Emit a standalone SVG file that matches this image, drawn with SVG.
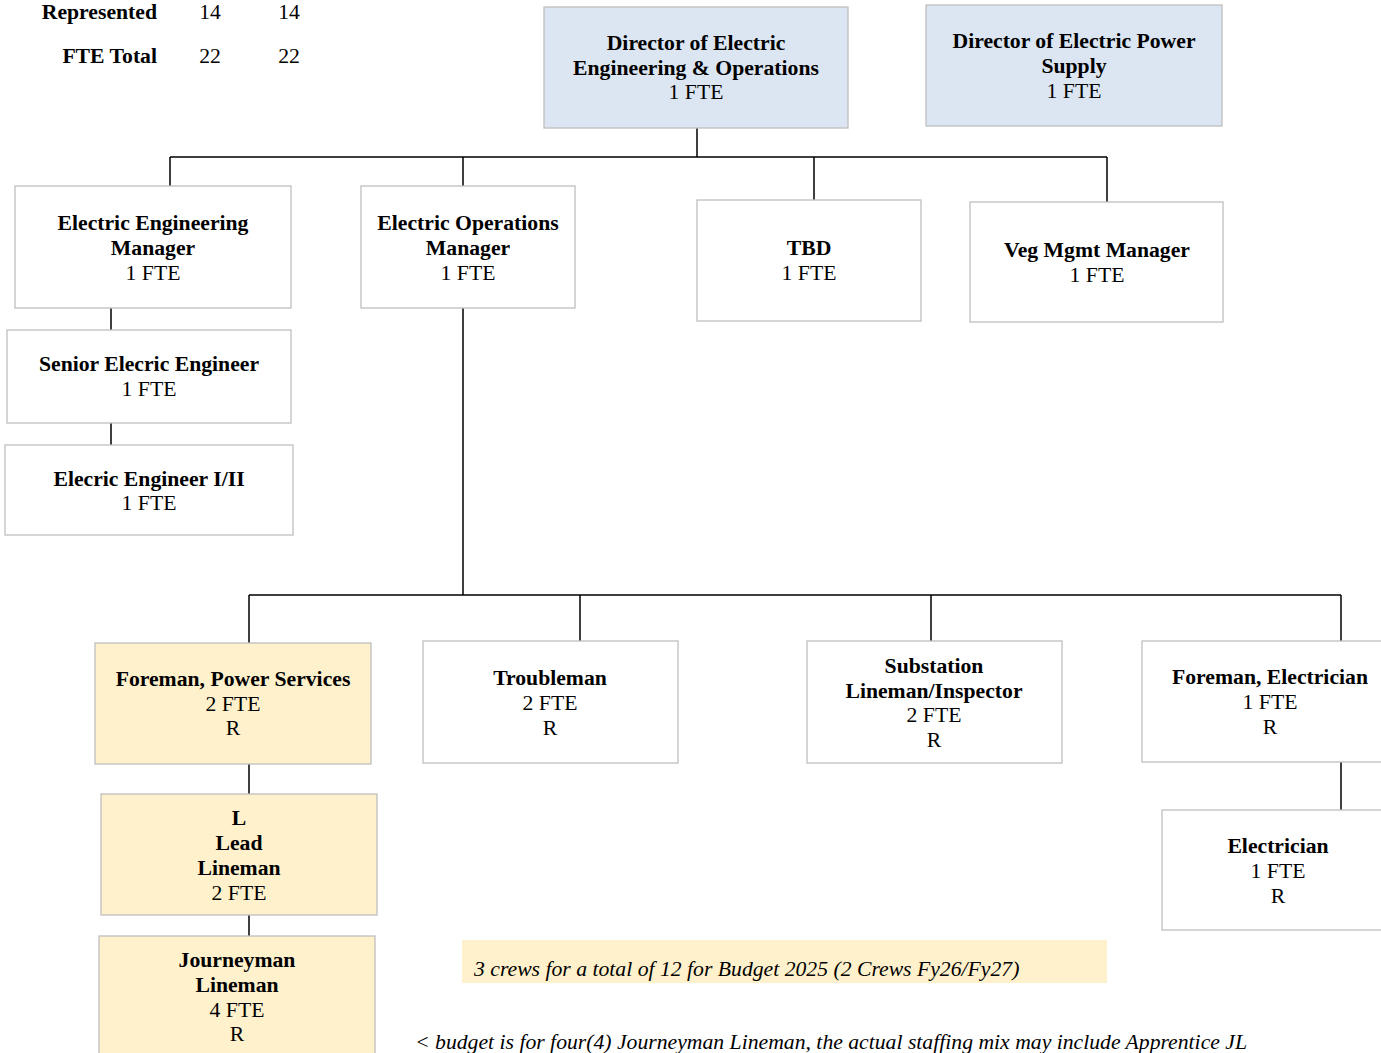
<svg xmlns="http://www.w3.org/2000/svg" width="1381" height="1053" viewBox="0 0 1381 1053">
<style>
text{font-family:"Liberation Serif","Times New Roman",serif;font-size:21.7px;fill:#000}
.b{font-weight:bold}
.c{text-anchor:middle}
.i{font-style:italic}
.box{stroke:#bfbfbf;stroke-width:1.3}
.w{fill:#fff}
.bl{fill:#dce6f2}
.y{fill:#fff1cc}
.conn{fill:none;stroke:#000;stroke-width:1.5}
</style>
<rect width="1381" height="1053" fill="#fff"/>
<g id="summary">
<text x="157" y="19" class="b" text-anchor="end">Represented</text>
<text x="210" y="19" class="c">14</text>
<text x="289" y="19" class="c">14</text>
<text x="157" y="63" class="b" text-anchor="end">FTE Total</text>
<text x="210" y="63" class="c">22</text>
<text x="289" y="63" class="c">22</text>
</g>
<g id="connectors" class="conn">
<path d="M697,128V157M170,157H1107M170,157V186M463,157V186M814,157V200M1107,157V202"/>
<path d="M111,308V330M111,423V445"/>
<path d="M463,308V595M249,595H1341M249,595V643M580,595V641M931,595V641M1341,595V641"/>
<path d="M1341,762V810M249,764V794M249,915V936"/>
</g>
<g id="dir-eeo"><rect class="box bl" x="544" y="7" width="304" height="121"/>
<text class="b c" x="696" y="50">Director of Electric</text><text class="b c" x="696" y="75">Engineering &amp; Operations</text><text class="c" x="696" y="99">1 FTE</text></g>
<g id="dir-eps"><rect class="box bl" x="926" y="5" width="296" height="121"/>
<text class="b c" x="1074" y="48">Director of Electric Power</text><text class="b c" x="1074" y="73">Supply</text><text class="c" x="1074" y="98">1 FTE</text></g>
<g id="ee-mgr"><rect class="box w" x="15" y="186" width="276" height="122"/>
<text class="b c" x="153" y="230">Electric Engineering</text><text class="b c" x="153" y="255">Manager</text><text class="c" x="153" y="280">1 FTE</text></g>
<g id="eo-mgr"><rect class="box w" x="361" y="186" width="214" height="122"/>
<text class="b c" x="468" y="230">Electric Operations</text><text class="b c" x="468" y="255">Manager</text><text class="c" x="468" y="280">1 FTE</text></g>
<g id="tbd"><rect class="box w" x="697" y="200" width="224" height="121"/>
<text class="b c" x="809" y="255">TBD</text><text class="c" x="809" y="280">1 FTE</text></g>
<g id="veg"><rect class="box w" x="970" y="202" width="253" height="120"/>
<text class="b c" x="1097" y="257">Veg Mgmt Manager</text><text class="c" x="1097" y="282">1 FTE</text></g>
<g id="senior-ee"><rect class="box w" x="7" y="330" width="284" height="93"/>
<text class="b c" x="149" y="371">Senior Elecric Engineer</text><text class="c" x="149" y="396">1 FTE</text></g>
<g id="ee-1-2"><rect class="box w" x="5" y="445" width="288" height="90"/>
<text class="b c" x="149" y="486">Elecric Engineer I/II</text><text class="c" x="149" y="510">1 FTE</text></g>
<g id="foreman-ps"><rect class="box y" x="95" y="643" width="276" height="121"/>
<text class="b c" x="233" y="686">Foreman, Power Services</text><text class="c" x="233" y="711">2 FTE</text><text class="c" x="233" y="735">R</text></g>
<g id="troubleman"><rect class="box w" x="423" y="641" width="255" height="122"/>
<text class="b c" x="550" y="685">Troubleman</text><text class="c" x="550" y="710">2 FTE</text><text class="c" x="550" y="735">R</text></g>
<g id="substation"><rect class="box w" x="807" y="641" width="255" height="122"/>
<text class="b c" x="934" y="673">Substation</text><text class="b c" x="934" y="698">Lineman/Inspector</text><text class="c" x="934" y="722">2 FTE</text><text class="c" x="934" y="747">R</text></g>
<g id="foreman-el"><rect class="box w" x="1142" y="641" width="260" height="121"/>
<text class="b c" x="1270" y="684">Foreman, Electrician</text><text class="c" x="1270" y="709">1 FTE</text><text class="c" x="1270" y="734">R</text></g>
<g id="electrician"><rect class="box w" x="1162" y="810" width="240" height="120"/>
<text class="b c" x="1278" y="853">Electrician</text><text class="c" x="1278" y="878">1 FTE</text><text class="c" x="1278" y="903">R</text></g>
<g id="lead-lineman"><rect class="box y" x="101" y="794" width="276" height="121"/>
<text class="b c" x="239" y="825">L</text><text class="b c" x="239" y="850">Lead</text><text class="b c" x="239" y="875">Lineman</text><text class="c" x="239" y="900">2 FTE</text></g>
<g id="journeyman"><rect class="box y" x="99" y="936" width="276" height="130"/>
<text class="b c" x="237" y="967">Journeyman</text><text class="b c" x="237" y="992">Lineman</text><text class="c" x="237" y="1017">4 FTE</text><text class="c" x="237" y="1041">R</text></g>
<g id="note-crews"><rect x="462" y="940" width="645" height="43" fill="#fff1cc"/>
<text class="i" x="474" y="976">3 crews for a total of 12 for Budget 2025 (2 Crews Fy26/Fy27)</text></g>
<g id="note-budget"><text class="i" x="415" y="1049">&lt; budget is for four(4) Journeyman Lineman, the actual staffing mix may include Apprentice JL</text></g>
</svg>
